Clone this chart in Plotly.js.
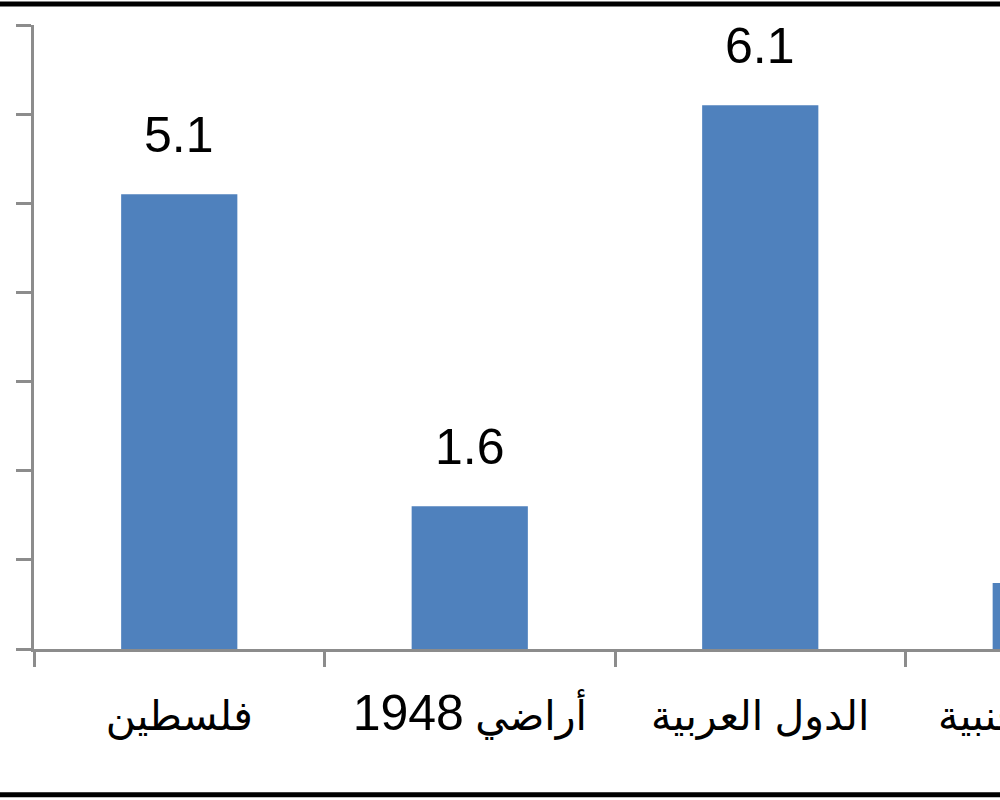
<!DOCTYPE html>
<html>
<head>
<meta charset="utf-8">
<script src="https://cdn.plot.ly/plotly-3.0.1.min.js"></script>
<style>
html, body { margin: 0; padding: 0; overflow: hidden; background: #ffffff; width: 1000px; height: 800px; }
#chart { width: 1240px; height: 800px; }
</style>
</head>
<body>
<div id="chart"></div>
<script>
const categories = ["فلسطين", "أراضي 1948", "الدول العربية", "الدول الأجنبية"];
const values = [5.1, 1.6, 6.1, 0.74];
const yTicks = [0, 1, 2, 3, 4, 5, 6, 7];

const barColor = "#4F81BD";
const axisColor = "#8C8C8C";
const fontFamily = "Liberation Sans, Arial, DejaVu Sans, sans-serif";

// Arabic glyphs fall back to a wider font, so digits are drawn a bit larger than the Arabic words
const tickText = categories.map(c => c.replace(/(\d+)/g, '<span style="font-size:50px">$1</span>'));

const trace = {
  type: "bar",
  x: categories,
  y: values,
  marker: { color: barColor, line: { width: 0 } },
  width: 0.4,
  hoverinfo: "skip"
};

const annotations = categories.map((c, i) => ({
  x: c,
  y: values[i],
  xref: "x",
  yref: "y",
  text: values[i].toFixed(1),
  showarrow: false,
  yanchor: "bottom",
  yshift: 29,
  font: { family: fontFamily, size: 50, color: "#000000" }
}));

const layout = {
  width: 1240,
  height: 800,
  margin: { l: 34, r: 44, t: 24.5, b: 150.5 },
  paper_bgcolor: "#ffffff",
  plot_bgcolor: "#ffffff",
  showlegend: false,
  bargap: 0.6,
  xaxis: {
    type: "category",
    range: [-0.5, 3.5],
    tickvals: categories,
    ticktext: tickText,
    showline: true,
    linecolor: axisColor,
    linewidth: 3,
    ticks: "outside",
    tickson: "boundaries",
    ticklen: 15,
    tickwidth: 3,
    tickcolor: axisColor,
    ticklabelstandoff: 29,
    showgrid: false,
    zeroline: false,
    tickfont: { family: fontFamily, size: 41, color: "#000000" },
    fixedrange: true
  },
  yaxis: {
    range: [0, 7],
    tickvals: yTicks,
    showticklabels: false,
    showline: true,
    linecolor: axisColor,
    linewidth: 3,
    ticks: "outside",
    ticklen: 15,
    tickwidth: 3,
    tickcolor: axisColor,
    showgrid: false,
    zeroline: false,
    fixedrange: true
  },
  annotations: annotations,
  shapes: [
    { type: "line", xref: "paper", yref: "paper", x0: -0.05, x1: 1.05, y0: 1.0336, y1: 1.0336,
      line: { color: "#000000", width: 5 } },
    { type: "line", xref: "paper", yref: "paper", x0: -0.05, x1: 1.05, y0: -0.2336, y1: -0.2336,
      line: { color: "#000000", width: 5 } }
  ]
};

Plotly.newPlot("chart", [trace], layout, { displayModeBar: false, staticPlot: true });
</script>
</body>
</html>
